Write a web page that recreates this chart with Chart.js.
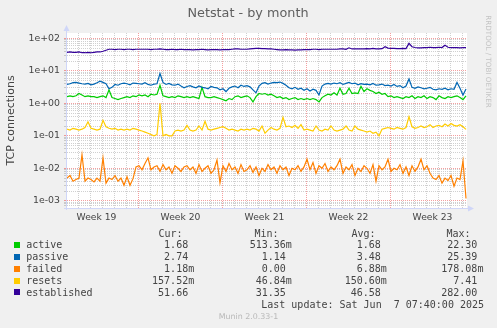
<!DOCTYPE html>
<html>
<head>
<meta charset="utf-8">
<title>Netstat - by month</title>
<script src="https://cdn.jsdelivr.net/npm/chart.js@4.4.1/dist/chart.umd.min.js"></script>
<style>
  html, body { margin: 0; padding: 0; background: #f0f0f0; }
  canvas { display: block; }
</style>
</head>
<body>
<canvas id="netstat" width="497" height="328" style="width:497px;height:328px"></canvas>
<script>
// Sampling: one value every 6 hours, hours counted from Monday 00:00 of week 19.
const START_HOUR = 25;
const STEP_HOURS = 6;
const X_MIN = 25, X_MAX = 825;
const Y_MIN = 6.1e-4, Y_MAX = 145.6;
const FIRST_WEEK = 19;

const seriesNames = ['active', 'passive', 'failed', 'resets', 'established'];
const seriesColors = ['#00cc00', '#0066b3', '#ff8000', '#ffcc00', '#330099'];

const active = [
  1.6,1.7,1.6,1.7,2.0,1.8,1.6,1.7,1.6,1.6,
  1.5,1.6,1.7,1.5,2.6,1.5,1.4,1.3,1.4,1.5,
  1.6,1.5,1.7,1.6,1.8,1.7,1.8,1.6,1.9,1.8,
  1.9,3.6,1.7,1.6,1.5,1.6,1.5,1.7,1.6,1.5,
  1.6,1.5,1.6,1.5,1.4,3.1,1.6,1.5,1.5,1.6,
  1.5,1.4,1.3,1.2,1.4,1.3,1.6,1.7,1.5,1.6,
  1.7,1.5,1.1,1.6,2.0,1.9,2.0,1.8,1.9,1.7,
  1.5,1.6,1.4,1.5,1.3,1.4,1.5,1.3,1.4,1.3,
  1.4,1.3,1.4,1.3,1.1,1.5,1.7,1.9,1.8,2.1,
  1.8,2.9,1.9,2.0,2.9,2.0,2.1,2.0,3.3,2.3,
  2.8,2.5,2.3,2.0,2.2,1.9,2.0,1.6,1.7,1.5,
  1.6,1.5,1.4,1.6,1.5,1.7,1.4,1.6,1.5,1.7,
  1.4,1.6,1.5,1.3,1.7,1.5,1.4,1.6,1.5,1.6,
  1.7,1.5,1.3,1.68
];

const passive = [
  3.8,4.0,4.3,4.4,4.2,4.0,3.9,4.1,3.7,3.9,
  4.3,4.8,4.4,4.0,2.8,3.1,3.8,3.6,4.0,4.2,
  4.0,3.7,4.2,4.1,4.0,3.9,4.3,3.8,3.6,3.9,
  4.0,8.2,4.4,3.8,4.1,3.7,3.6,3.9,3.4,3.0,
  3.3,3.5,3.2,3.0,3.4,3.1,3.0,2.8,3.3,3.1,
  3.0,2.6,2.8,2.3,2.9,3.2,3.4,3.0,3.6,3.3,
  3.5,3.2,2.6,2.1,3.4,4.1,4.3,3.9,4.2,4.4,
  4.3,4.5,4.1,3.6,3.0,2.8,3.1,2.7,2.9,2.5,
  2.8,2.4,2.7,2.5,1.8,3.4,3.9,4.1,3.9,4.2,
  4.0,4.3,3.8,4.1,4.4,4.0,4.2,3.7,4.0,3.8,
  3.9,3.7,4.1,3.6,3.7,3.9,3.5,3.6,3.4,3.8,
  3.3,3.5,3.0,3.4,5.6,3.1,2.9,3.2,3.0,2.8,
  2.9,3.1,2.7,2.6,2.8,2.7,2.9,2.6,2.8,2.7,
  4.4,2.9,1.8,2.74
];

const failed = [
  0.005,0.006,0.004,0.0045,0.005,0.026,0.004,0.005,0.0045,0.0038,
  0.005,0.004,0.021,0.0035,0.005,0.0045,0.006,0.004,0.005,0.003,
  0.0055,0.003,0.0048,0.011,0.012,0.009,0.014,0.021,0.009,0.011,
  0.012,0.008,0.013,0.009,0.011,0.007,0.012,0.01,0.008,0.011,
  0.012,0.009,0.011,0.007,0.013,0.008,0.01,0.012,0.007,0.009,
  0.018,0.0036,0.012,0.008,0.014,0.009,0.011,0.007,0.013,0.008,
  0.009,0.012,0.0075,0.011,0.006,0.01,0.008,0.013,0.009,0.011,
  0.007,0.012,0.009,0.011,0.006,0.01,0.009,0.012,0.008,0.011,
  0.019,0.009,0.015,0.007,0.012,0.01,0.014,0.008,0.011,0.009,
  0.012,0.019,0.007,0.011,0.009,0.013,0.006,0.01,0.008,0.012,
  0.01,0.007,0.013,0.004,0.012,0.009,0.011,0.019,0.008,0.01,
  0.009,0.013,0.007,0.011,0.006,0.012,0.008,0.011,0.019,0.009,
  0.012,0.007,0.005,0.0045,0.006,0.0035,0.005,0.0042,0.006,0.0028,
  0.005,0.0045,0.017,0.00118
];

const resets = [
  0.16,0.15,0.17,0.16,0.15,0.16,0.18,0.27,0.17,0.16,
  0.15,0.16,0.3,0.19,0.17,0.16,0.17,0.15,0.16,0.15,
  0.16,0.15,0.17,0.16,0.15,0.14,0.13,0.12,0.11,0.1,
  0.11,1.0,0.1,0.11,0.1,0.1,0.14,0.15,0.14,0.15,
  0.21,0.15,0.14,0.15,0.2,0.15,0.28,0.16,0.15,0.16,
  0.17,0.18,0.19,0.17,0.15,0.16,0.15,0.14,0.16,0.15,
  0.16,0.15,0.17,0.16,0.14,0.2,0.12,0.15,0.18,0.16,
  0.15,0.17,0.37,0.19,0.2,0.18,0.21,0.17,0.22,0.15,
  0.16,0.15,0.14,0.2,0.15,0.14,0.16,0.15,0.2,0.15,
  0.14,0.15,0.16,0.2,0.15,0.14,0.2,0.16,0.15,0.14,
  0.13,0.14,0.12,0.13,0.1,0.16,0.17,0.18,0.17,0.16,
  0.18,0.17,0.16,0.18,0.39,0.19,0.17,0.18,0.2,0.18,
  0.19,0.22,0.18,0.2,0.21,0.19,0.23,0.2,0.24,0.21,
  0.2,0.22,0.19,0.158
];

const established = [
  37,38,37,37,38,36,36,37,36,37,
  38,38,40,43,46,46,45,46,46,45,
  46,46,45,46,46,46,46,46,45,46,
  46,47,46,45,45,46,45,45,46,45,
  45,45,44,45,45,46,45,44,45,45,
  45,44,45,45,45,46,47,47,46,46,
  46,47,48,49,49,48,48,47,47,46,
  45,44,44,45,44,44,43,44,44,45,
  45,45,46,46,45,46,46,46,46,46,
  46,47,47,46,51,47,47,47,47,47,
  48,47,49,47,47,48,55,50,49,49,
  48,48,49,48,70,55,52,51,51,52,
  52,53,52,52,53,52,61,53,52,52,
  52,51,52,51.66
];

// Legend statistics as printed under the graph
const statHeaders = ['Cur:', 'Min:', 'Avg:', 'Max:'];
const statCur = ['1.68 ', '2.74 ', '1.18m', '157.52m', '51.66 '];
const statMin = ['513.36m', '1.14 ', '0.00 ', '46.84m', '31.35 '];
const statAvg = ['1.68 ', '3.48 ', '6.88m', '150.60m', '46.58 '];
const statMax = ['22.30 ', '25.39 ', '178.08m', '7.41 ', '282.00 '];

const titleText = 'Netstat - by month';
const yTitle = 'TCP connections';
const lastUpdate = 'Last update:  Sat Jun  7 07:40:00 2025';
const versionText = 'Munin 2.0.33-1';
const sideText = 'RRDTOOL / TOBI OETIKER';

const FONT_COLOR = '#444444';
const AXIS_COLOR = '#cfd6f8';
const MINOR_GRID = 'rgba(150,150,150,0.45)';
const MAJOR_GRID = 'rgba(235,80,80,0.55)';

const seriesValues = [active, passive, failed, resets, established];

function toPoints(values) {
  return values.map((v, i) => ({ x: START_HOUR + STEP_HOURS * i, y: v }));
}

function mantissa(v) {
  const e = Math.floor(Math.log10(v) + 1e-9);
  return Math.round(v / Math.pow(10, e));
}

function expLabel(v) {
  const e = Math.round(Math.log10(v));
  return '1e' + (e < 0 ? '-' : '+') + String(Math.abs(e)).padStart(2, '0');
}

const muninDecor = {
  id: 'muninDecor',
  beforeDraw(chart) {
    const { ctx, chartArea: a } = chart;
    ctx.save();
    ctx.fillStyle = '#f0f0f0';
    ctx.fillRect(0, 0, chart.width, chart.height);
    ctx.fillStyle = '#ffffff';
    ctx.fillRect(a.left, a.top, a.right - a.left, a.bottom - a.top);
    ctx.restore();
  },
  afterDraw(chart) {
    const { ctx, chartArea: a } = chart;
    ctx.save();

    // axes with arrow heads
    ctx.strokeStyle = AXIS_COLOR;
    ctx.fillStyle = AXIS_COLOR;
    ctx.lineWidth = 1;
    ctx.beginPath();
    ctx.moveTo(a.left - 0.5, a.bottom + 2);
    ctx.lineTo(a.left - 0.5, a.top - 4);
    ctx.moveTo(a.left - 3, a.bottom + 0.5);
    ctx.lineTo(a.right + 2, a.bottom + 0.5);
    ctx.stroke();
    ctx.beginPath();
    ctx.moveTo(a.left - 0.5, a.top - 8);
    ctx.lineTo(a.left - 3.5, a.top - 2);
    ctx.lineTo(a.left + 2.5, a.top - 2);
    ctx.closePath();
    ctx.fill();
    ctx.beginPath();
    ctx.moveTo(a.right + 7, a.bottom + 0.5);
    ctx.lineTo(a.right + 1, a.bottom - 2.5);
    ctx.lineTo(a.right + 1, a.bottom + 3.5);
    ctx.closePath();
    ctx.fill();

    // title
    ctx.fillStyle = '#606060';
    ctx.font = '12.8px "DejaVu Sans"';
    ctx.textAlign = 'center';
    ctx.textBaseline = 'middle';
    ctx.fillText(titleText, 248, 13.5);

    // vertical axis title
    ctx.save();
    ctx.translate(11, (a.top + a.bottom) / 2);
    ctx.rotate(-Math.PI / 2);
    ctx.fillStyle = FONT_COLOR;
    ctx.font = '11px "DejaVu Sans"';
    ctx.fillText(yTitle, 0, 0);
    ctx.restore();

    // side credit
    ctx.save();
    ctx.translate(488, 61.5);
    ctx.rotate(Math.PI / 2);
    ctx.fillStyle = '#c4c4c4';
    ctx.font = '7.2px "DejaVu Sans"';
    ctx.fillText(sideText, 0, 0);
    ctx.restore();

    // legend table
    ctx.font = '10px "DejaVu Sans Mono"';
    ctx.fillStyle = FONT_COLOR;
    ctx.textAlign = 'left';
    const headerX = [158.5, 254.5, 351.5, 446.5];
    statHeaders.forEach((h, k) => ctx.fillText(h, headerX[k], 234.3));
    const rowY = [245.7, 257.6, 269.5, 281.5, 293.4];
    const colRight = [194.2, 291.8, 386.8, 483.4];
    const columns = [statCur, statMin, statAvg, statMax];
    seriesNames.forEach((name, r) => {
      ctx.fillStyle = seriesColors[r];
      ctx.fillRect(14, Math.round(rowY[r]) - 4, 6, 6);
      ctx.fillStyle = FONT_COLOR;
      ctx.textAlign = 'left';
      ctx.fillText(name, 26.2, rowY[r]);
      ctx.textAlign = 'right';
      columns.forEach((col, k) => ctx.fillText(col[r], colRight[k], rowY[r]));
    });
    ctx.textAlign = 'right';
    ctx.fillText(lastUpdate.replace(':  ', ': '), 484, 305.8);

    // version footer
    ctx.textAlign = 'center';
    ctx.fillStyle = '#b8b8b8';
    ctx.font = '7.9px "DejaVu Sans"';
    ctx.fillText(versionText, 248.5, 317.3);

    ctx.restore();
  }
};

const xTicks = [];
for (let h = 36; h <= 816; h += 12) xTicks.push({ value: h });

const yTicks = [];
for (let e = -4; e <= 2; e++) {
  for (let m = 1; m <= 9; m++) {
    const v = m * Math.pow(10, e);
    if (v >= Y_MIN && v <= Y_MAX) yTicks.push({ value: v });
  }
}

new Chart(document.getElementById('netstat'), {
  type: 'line',
  data: {
    datasets: seriesNames.map((name, k) => ({
      label: name,
      data: toPoints(seriesValues[k]),
      borderColor: seriesColors[k],
      backgroundColor: seriesColors[k],
      borderWidth: 1.2,
      pointRadius: 0,
      tension: 0,
      fill: false,
      order: seriesNames.length - k
    }))
  },
  plugins: [muninDecor],
  options: {
    responsive: false,
    animation: false,
    events: [],
    layout: { padding: { left: 0, top: 33, right: 30, bottom: 100 } },
    plugins: {
      legend: { display: false },
      tooltip: { enabled: false },
      title: { display: false }
    },
    scales: {
      x: {
        type: 'linear',
        min: X_MIN,
        max: X_MAX,
        afterBuildTicks(scale) { scale.ticks = xTicks.map(t => ({ value: t.value })); },
        afterFit(scale) { scale.height = 20; },
        border: { display: false, dash: [1, 1] },
        grid: {
          drawTicks: false,
          lineWidth: 1,
          color(ctx) {
            const h = ctx.tick ? ctx.tick.value : 0;
            if (h % 168 === 0) return MAJOR_GRID;
            if (h % 24 === 0) return MINOR_GRID;
            return 'rgba(0,0,0,0)';
          }
        },
        ticks: {
          autoSkip: false,
          maxRotation: 0,
          minRotation: 0,
          padding: 4,
          color: FONT_COLOR,
          font: { family: 'DejaVu Sans', size: 9.2 },
          callback(v) {
            return (v - 84) % 168 === 0 ? 'Week ' + (FIRST_WEEK + Math.floor(v / 168)) : '';
          }
        }
      },
      y: {
        type: 'logarithmic',
        min: Y_MIN,
        max: Y_MAX,
        afterBuildTicks(scale) { scale.ticks = yTicks.map(t => ({ value: t.value })); },
        afterFit(scale) { scale.width = 67; },
        border: { display: false, dash: [1, 1] },
        grid: {
          drawTicks: true,
          tickLength: 3,
          lineWidth: 1,
          color(ctx) {
            const v = ctx.tick ? ctx.tick.value : 1;
            return mantissa(v) === 1 ? MAJOR_GRID : MINOR_GRID;
          }
        },
        ticks: {
          autoSkip: false,
          padding: 4,
          color: FONT_COLOR,
          font: { family: 'DejaVu Sans', size: 9.4 },
          callback(v) { return mantissa(v) === 1 ? expLabel(v) : ''; }
        }
      }
    }
  }
});
</script>
</body>
</html>
